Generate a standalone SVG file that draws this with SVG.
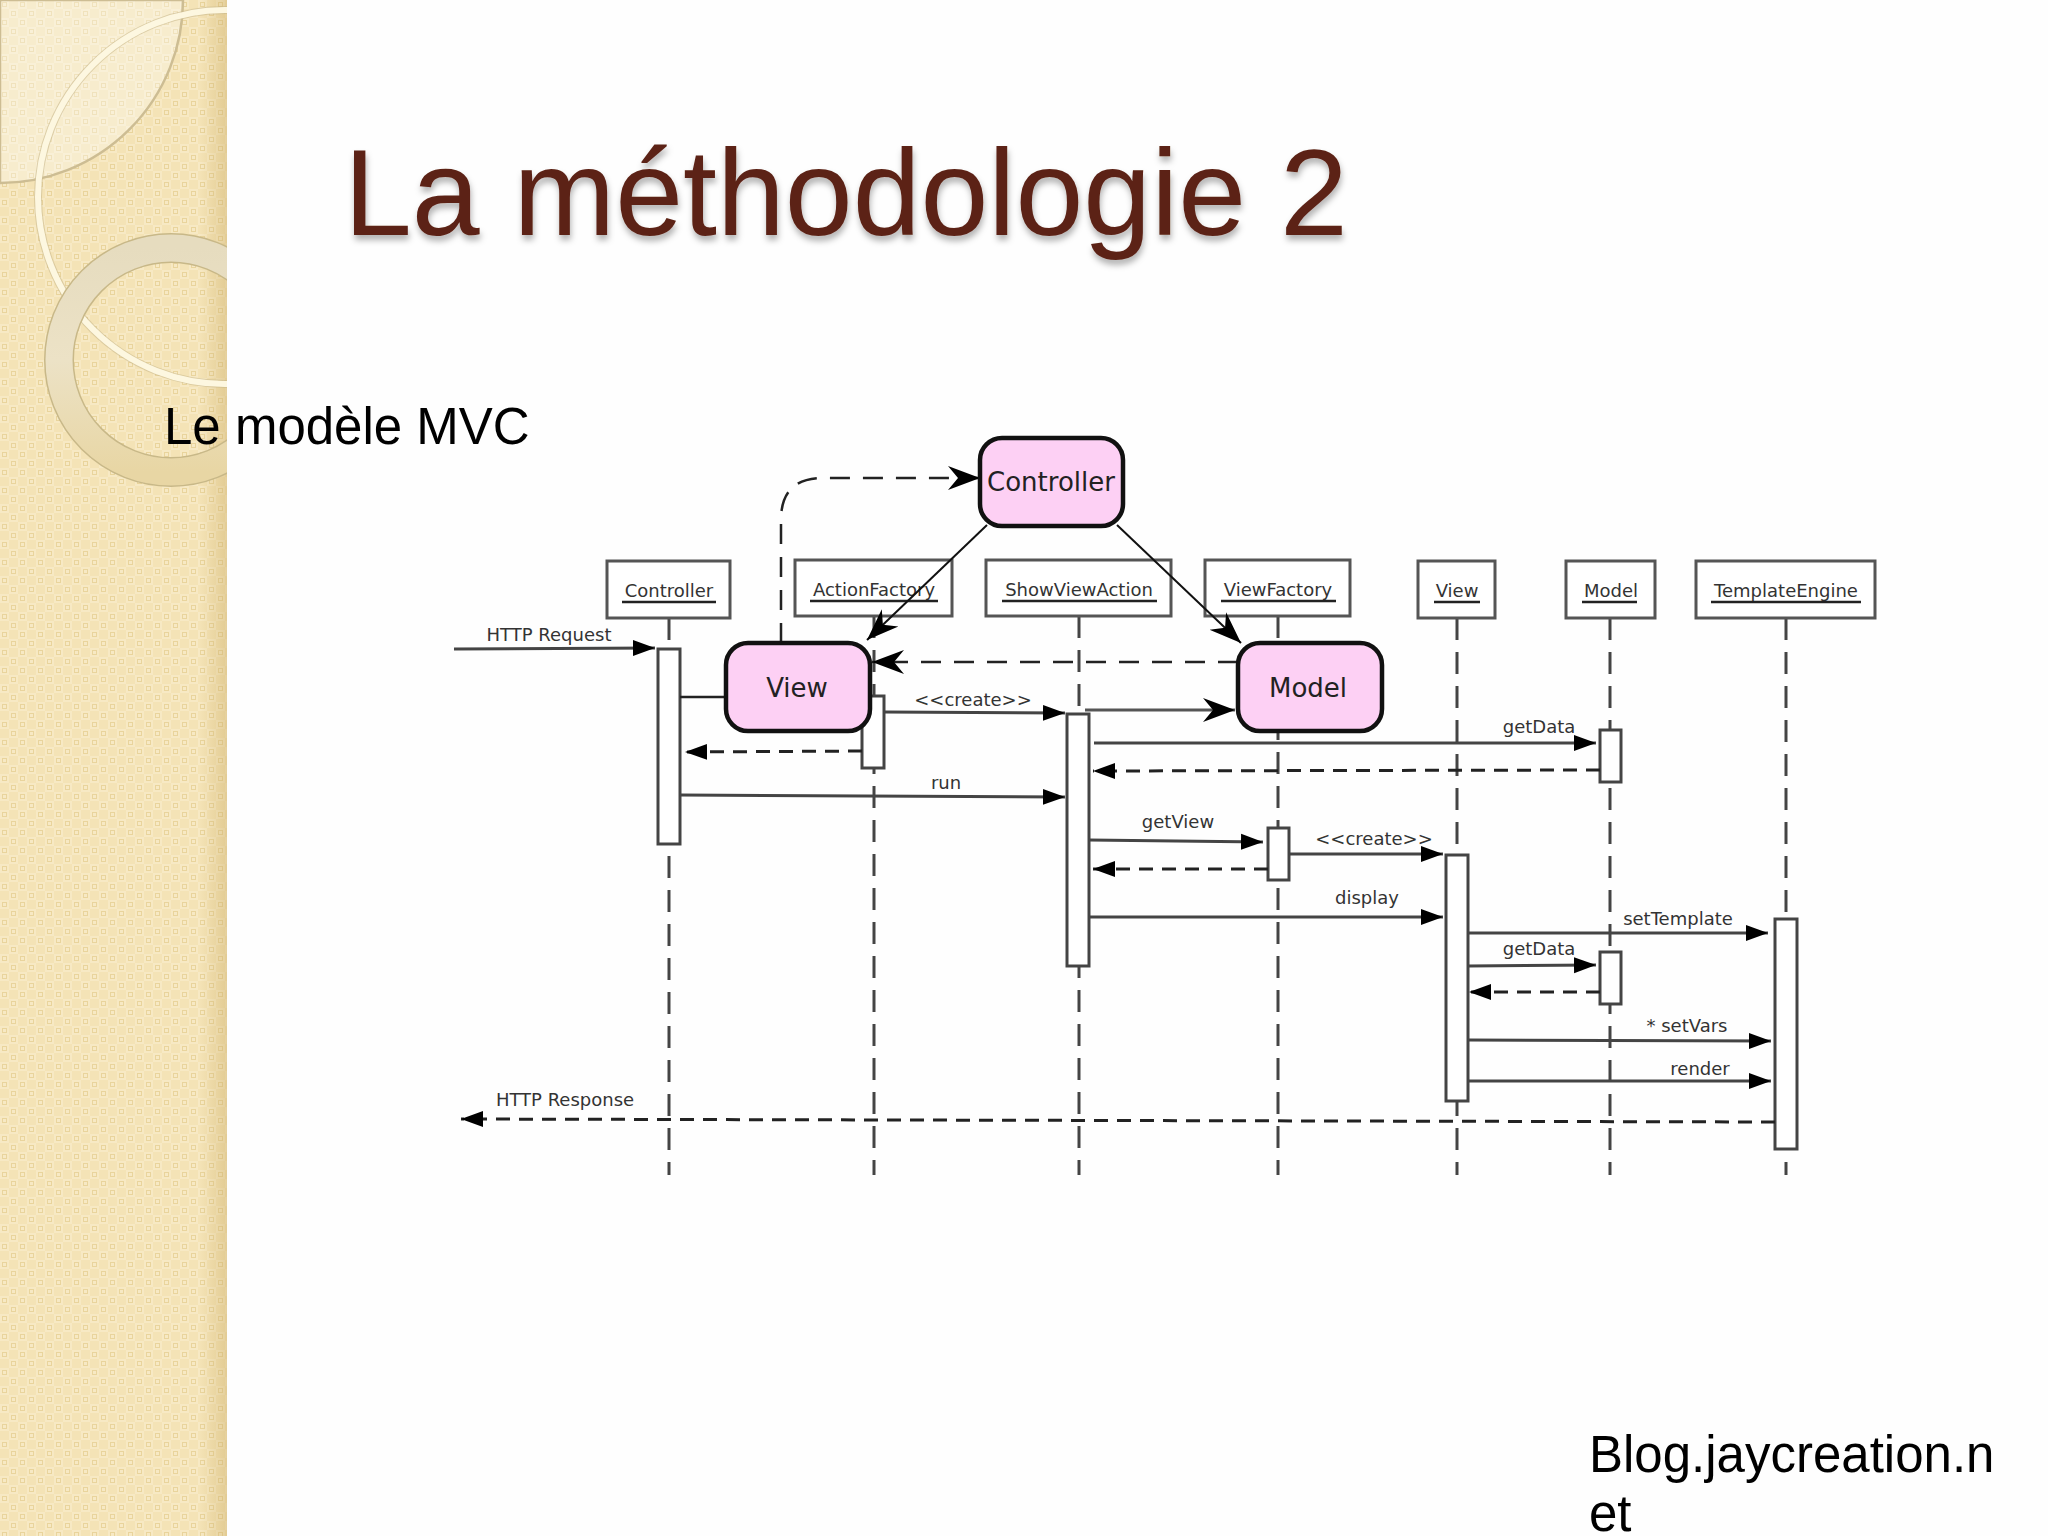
<svg xmlns="http://www.w3.org/2000/svg" width="2048" height="1536" viewBox="0 0 2048 1536">
<style>
.lbl{font-family:"DejaVu Sans",sans-serif;font-size:18px;fill:#333;text-anchor:middle}
.box{fill:#fff;stroke:#555;stroke-width:3}
.act{fill:#fff;stroke:#444;stroke-width:3}
.ul{stroke:#222;stroke-width:2.5;fill:none}
.life{stroke:#444;stroke-width:3;stroke-dasharray:22 12;fill:none}
.msg{stroke:#444;stroke-width:3;fill:none;marker-end:url(#fill)}
.ret{stroke:#222;stroke-width:3;stroke-dasharray:14 9;fill:none;marker-end:url(#fill)}
.open{stroke:#111;stroke-width:2;fill:none;marker-end:url(#open)}
.openg{stroke:#555;stroke-width:3;fill:none;marker-end:url(#open)}
.opend{stroke:#222;stroke-width:2.5;stroke-dasharray:20 13;fill:none;marker-end:url(#open)}
.pink{fill:#fdd0f4;stroke:#111;stroke-width:4.5}
.ptxt{font-family:"DejaVu Sans",sans-serif;font-size:26px;fill:#222;text-anchor:middle}
.big{font-family:"Liberation Sans",Arial,sans-serif;font-size:51px;fill:#000}
</style>
<defs>
<marker id="fill" markerUnits="userSpaceOnUse" markerWidth="24" markerHeight="18" refX="22" refY="9" orient="auto"><path d="M0,1 L22,9 L0,17Z" fill="#000"/></marker>
<marker id="open" markerUnits="userSpaceOnUse" markerWidth="34" markerHeight="28" refX="32" refY="14" orient="auto"><path d="M0,2 L32,14 L0,26 L10,14Z" fill="#000"/></marker>
<pattern id="weave" width="18" height="18" patternUnits="userSpaceOnUse">
<rect width="18" height="18" fill="#f4e3b6"/>
<rect width="9" height="9" fill="#f7e9c4"/>
<rect x="9" y="9" width="9" height="9" fill="#f7e9c4"/>
<rect x="2.5" y="2.5" width="4" height="4" fill="none" stroke="#e9d49c" stroke-width="1"/>
<rect x="11.5" y="11.5" width="4" height="4" fill="none" stroke="#e9d49c" stroke-width="1"/>
</pattern>
<linearGradient id="edge" x1="0" x2="1" y1="0" y2="0"><stop offset="0.88" stop-color="#c9a95f" stop-opacity="0"/><stop offset="1" stop-color="#c9a95f" stop-opacity="0.4"/></linearGradient>
<linearGradient id="ringg" x1="0" x2="0" y1="0" y2="1"><stop offset="0" stop-color="#e6dcbf"/><stop offset="0.5" stop-color="#ece2c6"/><stop offset="1" stop-color="#e8d6a4"/></linearGradient>
<clipPath id="side"><rect width="227" height="1536"/></clipPath>
<filter id="shadow" x="-5%" y="-10%" width="110%" height="125%"><feDropShadow dx="1" dy="5" stdDeviation="3" flood-color="#000" flood-opacity="0.3"/></filter>
</defs>
<rect width="2048" height="1536" fill="#fefefe"/>
<g id="sidebar" clip-path="url(#side)">
<rect width="227" height="1536" fill="url(#weave)"/>
<rect width="227" height="1536" fill="url(#edge)"/>
<path d="M0,0 H183 A183,183 0 0 1 0,183Z" fill="#fff" fill-opacity="0.32" stroke="#cdbd93" stroke-width="2.5"/>
<circle cx="225" cy="197" r="187" fill="none" stroke="#c9b98c" stroke-width="8" opacity="0.6"/>
<circle cx="225" cy="197" r="187" fill="none" stroke="#fdf7e0" stroke-width="6"/>
<circle cx="171" cy="360" r="112" fill="none" stroke="#c8b888" stroke-width="30"/>
<circle cx="171" cy="360" r="112" fill="none" stroke="url(#ringg)" stroke-width="27"/>
</g>
<text id="title" x="344" y="235" font-family="'Liberation Sans',Arial,sans-serif" font-size="122" fill="#5c2316" filter="url(#shadow)">La méthodologie 2</text>
<text id="subtitle" class="big" x="164" y="444">Le modèle MVC</text>
<g id="lifelines">
<path class="life" d="M669,618V1175"/>
<path class="life" d="M874,616V1175"/>
<path class="life" d="M1079,616V1175"/>
<path class="life" d="M1278,616V1175"/>
<path class="life" d="M1457,618V1175"/>
<path class="life" d="M1610,618V1175"/>
<path class="life" d="M1786,618V1175"/>
</g>
<g id="seq-controller"><rect class="box" x="607" y="561" width="123" height="57"/><text class="lbl" x="669" y="597">Controller</text><path class="ul" d="M622,602H716"/></g>
<g id="seq-actionfactory"><rect class="box" x="795" y="560" width="157" height="56"/><text class="lbl" x="874" y="596">ActionFactory</text><path class="ul" d="M810,601H938"/></g>
<g id="seq-showviewaction"><rect class="box" x="986" y="560" width="185" height="56"/><text class="lbl" x="1079" y="596">ShowViewAction</text><path class="ul" d="M1002,601H1157"/></g>
<g id="seq-viewfactory"><rect class="box" x="1205" y="560" width="145" height="56"/><text class="lbl" x="1278" y="596">ViewFactory</text><path class="ul" d="M1221,601H1336"/></g>
<g id="seq-view"><rect class="box" x="1418" y="561" width="77" height="57"/><text class="lbl" x="1457" y="597">View</text><path class="ul" d="M1434,602H1480"/></g>
<g id="seq-model"><rect class="box" x="1566" y="561" width="89" height="57"/><text class="lbl" x="1611" y="597">Model</text><path class="ul" d="M1582,602H1637"/></g>
<g id="seq-templateengine"><rect class="box" x="1696" y="561" width="179" height="57"/><text class="lbl" x="1786" y="597">TemplateEngine</text><path class="ul" d="M1711,602H1861"/></g>
<g id="activations">
<rect class="act" x="658" y="649" width="22" height="195"/>
<rect class="act" x="862" y="696" width="22" height="72"/>
<rect class="act" x="1067" y="714" width="22" height="252"/>
<rect class="act" x="1268" y="828" width="21" height="52"/>
<rect class="act" x="1446" y="855" width="22" height="246"/>
<rect class="act" x="1600" y="730" width="21" height="52"/>
<rect class="act" x="1600" y="952" width="21" height="52"/>
<rect class="act" x="1775" y="919" width="22" height="230"/>
</g>
<g id="connectors">
<path class="msg" d="M454,649L655,648"/>
<path d="M680,697H726" stroke="#222" stroke-width="2.5" fill="none"/>
<path class="msg" d="M884,712L1065,713"/>
<path class="openg" d="M1085,710H1235"/>
<path class="ret" d="M862,751L685,752"/>
<path class="msg" d="M680,795L1065,797"/>
<path class="msg" d="M1094,743H1596"/>
<path class="ret" d="M1600,770L1093,771"/>
<path class="msg" d="M1089,840L1263,842"/>
<path class="ret" d="M1268,869H1093"/>
<path class="msg" d="M1289,854H1443"/>
<path class="msg" d="M1089,917H1443"/>
<path class="msg" d="M1468,933H1768"/>
<path class="msg" d="M1468,966L1596,965"/>
<path class="ret" d="M1600,992H1469"/>
<path class="msg" d="M1468,1040L1771,1041"/>
<path class="msg" d="M1468,1081H1771"/>
<path class="ret" d="M1775,1122L461,1119"/>
<path class="opend" d="M781,643V520Q781,478 823,478H980"/>
<path class="opend" d="M1238,662H872" stroke="#555"/>
<path class="open" d="M987,525L867,640"/>
<path class="open" d="M1117,525L1241,643"/>
</g>
<g id="msg-labels">
<text class="lbl" x="549" y="641">HTTP Request</text>
<text class="lbl" x="973" y="706">&lt;&lt;create&gt;&gt;</text>
<text class="lbl" x="946" y="789">run</text>
<text class="lbl" x="1539" y="733">getData</text>
<text class="lbl" x="1178" y="828">getView</text>
<text class="lbl" x="1374" y="845">&lt;&lt;create&gt;&gt;</text>
<text class="lbl" x="1367" y="904">display</text>
<text class="lbl" x="1678" y="925">setTemplate</text>
<text class="lbl" x="1539" y="955">getData</text>
<text class="lbl" x="1687" y="1032">* setVars</text>
<text class="lbl" x="1700" y="1075">render</text>
<text class="lbl" x="565" y="1106">HTTP Response</text>
</g>
<g id="node-controller"><rect class="pink" x="980" y="438" width="143" height="88" rx="22"/><text class="ptxt" x="1051" y="491">Controller</text></g>
<g id="node-view"><rect class="pink" x="726" y="643" width="144" height="88" rx="22"/><text class="ptxt" x="797" y="697">View</text></g>
<g id="node-model"><rect class="pink" x="1238" y="643" width="144" height="88" rx="22"/><text class="ptxt" x="1308" y="697">Model</text></g>
<text id="credit1" class="big" x="1589" y="1472">Blog.jaycreation.n</text>
<text id="credit2" class="big" x="1589" y="1531">et</text>
</svg>
